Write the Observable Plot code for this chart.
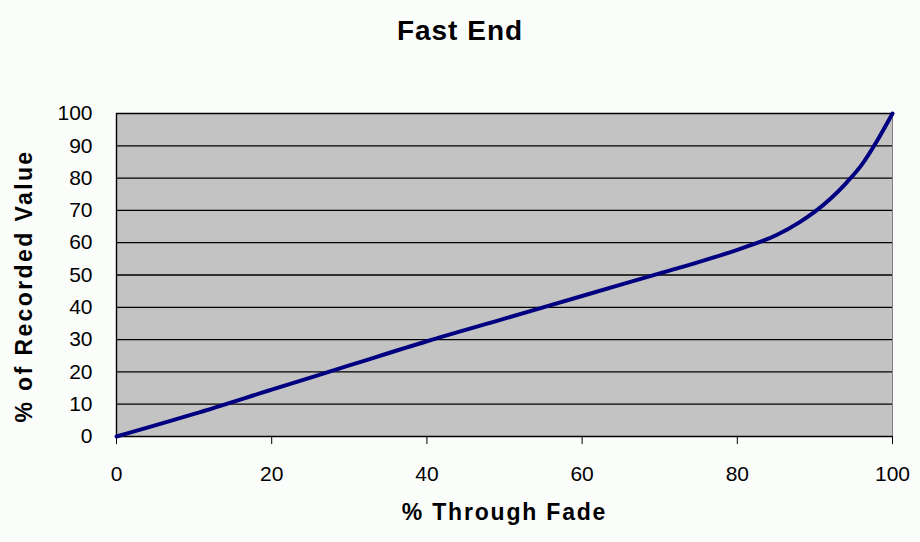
<!DOCTYPE html>
<html>
<head>
<meta charset="utf-8">
<script src="https://cdn.jsdelivr.net/npm/d3@7"></script>
<script src="https://cdn.jsdelivr.net/npm/@observablehq/plot@0.6"></script>
<style>
  html, body { margin: 0; padding: 0; background: #fbfdfb; }
  #title { height: 60px; line-height: 62px; text-align: center; font-family: "Liberation Sans", Arial, sans-serif; font-weight: bold; font-size: 28px; letter-spacing: 1px; color: #000; width: 920px; }
  #chart svg { display: block; }
</style>
</head>
<body>
<div id="title">Fast End</div>
<div id="chart"></div>
<script>
const titleText = "Fast End";
const xLabel = "% Through Fade";
const yLabel = "% of Recorded Value";
const fadePct = [0, 10, 20, 30, 40, 50, 60, 70, 75, 80, 85, 88, 90, 92, 94, 96, 98, 100];
const recordedPct = [0, 7, 14.5, 22, 29.5, 36.5, 43.5, 50.5, 54, 57.8, 62.3, 66.3, 69.6, 73.6, 78.4, 84, 91.5, 100];
const xTicks = [0, 20, 40, 60, 80, 100];
const yTicks = [0, 10, 20, 30, 40, 50, 60, 70, 80, 90, 100];

const data = fadePct.map((x, i) => ({x, y: recordedPct[i]}));
const font = "Liberation Sans, Arial, sans-serif";

const chart = Plot.plot({
  width: 920,
  height: 482,
  marginTop: 53,
  marginBottom: 106,
  marginLeft: 116,
  marginRight: 28,
  style: {fontFamily: font, fontSize: "21px", color: "#000", background: "transparent"},
  x: {domain: [0, 100], ticks: xTicks, label: null},
  y: {domain: [0, 100], ticks: yTicks, label: null},
  marks: [
    Plot.frame({fill: "#c3c3c3", stroke: "#808080"}),
    Plot.gridY(yTicks, {stroke: "#000", strokeOpacity: 1, strokeWidth: 1.3}),
    Plot.ruleX([0], {stroke: "#000", strokeWidth: 1.4}),
    Plot.axisX({ticks: xTicks, tickSize: 8, tickPadding: 22, label: null, fontSize: 21}),
    Plot.axisY({ticks: yTicks, tickSize: 0, tickPadding: 24, label: null, fontSize: 21}),
    Plot.line(data, {x: "x", y: "y", stroke: "#000080", strokeWidth: 4, curve: "monotone-x"}),
    Plot.text([xLabel], {frameAnchor: "bottom", textAnchor: "middle", dy: 83, text: d => d, fontWeight: "bold", fontSize: 23, fill: "#000"}),
    Plot.text([yLabel], {frameAnchor: "left", textAnchor: "middle", dx: -92, dy: 11, rotate: -90, text: d => d, fontWeight: "bold", fontSize: 23, fill: "#000"})
  ]
});
chart.querySelectorAll("text").forEach(t => {
  if (t.textContent === xLabel) t.setAttribute("letter-spacing", "1.8");
  if (t.textContent === yLabel) t.setAttribute("letter-spacing", "2.4");
});
document.getElementById("chart").appendChild(chart);
</script>
</body>
</html>
